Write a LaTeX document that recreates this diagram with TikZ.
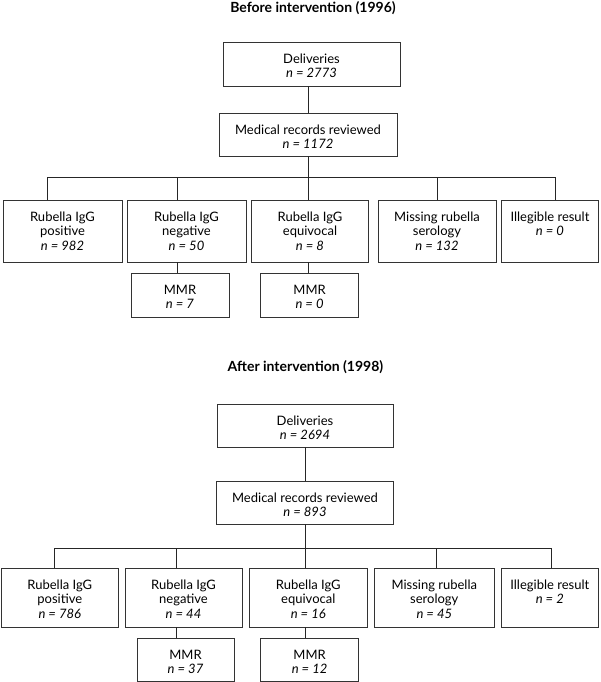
\documentclass[tikz,border=0pt]{standalone}
\usepackage{fontspec}
\setmainfont{Lato}
\begin{document}
\begin{tikzpicture}[x=1pt,y=-1pt,
  box/.style={draw=black!80, line width=0.8pt, inner sep=0pt, fill=none},
  txt/.style={anchor=north, inner sep=0pt, align=center, yshift=-12pt,
    font=\fontsize{13}{14.5}\selectfont},
  ttl/.style={inner sep=0pt, font=\bfseries\fontsize{14}{16}\selectfont},
  cn/.style={draw=black!85, line width=0.8pt}]
\useasboundingbox (0,0) rectangle (600,682);
% ---------------- top panel ----------------
\node[ttl] (t1) at (313,8) {Before intervention (1996)};
\node[box, minimum width=177pt, minimum height=44pt] (d1) at (311.5,64) {};
\node[txt] (d1t) at (d1.north) {Deliveries\\\textit{n = 2773}};
\node[box, minimum width=178pt, minimum height=43pt] (r1) at (308,134.5) {};
\node[txt] (r1t) at (r1.north) {Medical records reviewed\\\textit{n = 1172}};
\node[box, minimum width=119pt, minimum height=62pt] (a1) at (62.5,231) {};
\node[box, minimum width=119pt, minimum height=62pt] (a2) at (186.5,231) {};
\node[box, minimum width=116.5pt, minimum height=62pt] (a3) at (310,231) {};
\node[box, minimum width=118pt, minimum height=62pt] (a4) at (437,231) {};
\node[box, minimum width=97pt, minimum height=62pt] (a5) at (550,231) {};
\node[txt] (a1t) at (a1.north) {Rubella IgG\\positive\\\textit{n = 982}};
\node[txt] (a2t) at (a2.north) {Rubella IgG\\negative\\\textit{n = 50}};
\node[txt] (a3t) at (a3.north) {Rubella IgG\\equivocal\\\textit{n = 8}};
\node[txt] (a4t) at (a4.north) {Missing rubella\\serology\\\textit{n = 132}};
\node[txt] (a5t) at (a5.north) {Illegible result\\\textit{n = 0}};
\node[box, minimum width=98pt, minimum height=44pt] (m1) at (180,295) {};
\node[box, minimum width=98pt, minimum height=44pt] (m2) at (309.6,295) {};
\node[txt] (m1t) at (m1.north) {MMR\\\textit{n = 7}};
\node[txt] (m2t) at (m2.north) {MMR\\\textit{n = 0}};
\coordinate (j1) at (47.5,177);
\coordinate (j2) at (177.6,177);
\coordinate (j3) at (308,177);
\coordinate (j4) at (437,177);
\coordinate (j5) at (555,177);
\draw[cn] (r1.north) -- (r1.north |- d1.south);
\draw[cn] (r1.south) -- (j3);
\draw[cn] (j1) -- (j5);
\draw[cn] (j1) -- (j1 |- a1.north);
\draw[cn] (j2) -- (j2 |- a2.north);
\draw[cn] (j3) -- (j3 |- a3.north);
\draw[cn] (j4) -- (j4 |- a4.north);
\draw[cn] (j5) -- (j5 |- a5.north);
\draw[cn] (a2.south -| j2) -- (m1.north -| j2);
\draw[cn] (a3.south -| j3) -- (m2.north -| j3);
% ---------------- bottom panel ----------------
\node[ttl] (t2) at (305.5,367) {After intervention (1998)};
\node[box, minimum width=176pt, minimum height=43pt] (d2) at (305,425.5) {};
\node[txt] (d2t) at (d2.north) {Deliveries\\\textit{n = 2694}};
\node[box, minimum width=177pt, minimum height=43pt] (r2) at (305,502.5) {};
\node[txt] (r2t) at (r2.north) {Medical records reviewed\\\textit{n = 893}};
\node[box, minimum width=117.5pt, minimum height=59pt] (c1) at (59.8,597.5) {};
\node[box, minimum width=117pt, minimum height=59pt] (c2) at (183.5,597.5) {};
\node[box, minimum width=117.5pt, minimum height=59pt] (c3) at (308.3,597.5) {};
\node[box, minimum width=120.5pt, minimum height=59pt] (c4) at (434.3,597.5) {};
\node[box, minimum width=97.5pt, minimum height=59pt] (c5) at (549.8,597.5) {};
\node[txt] (c1t) at (c1.north) {Rubella IgG\\positive\\\textit{n = 786}};
\node[txt] (c2t) at (c2.north) {Rubella IgG\\negative\\\textit{n = 44}};
\node[txt] (c3t) at (c3.north) {Rubella IgG\\equivocal\\\textit{n = 16}};
\node[txt] (c4t) at (c4.north) {Missing rubella\\serology\\\textit{n = 45}};
\node[txt] (c5t) at (c5.north) {Illegible result\\\textit{n = 2}};
\node[box, minimum width=97pt, minimum height=43pt] (n1) at (185.5,659.5) {};
\node[box, minimum width=98pt, minimum height=43pt] (n2) at (309.6,659.5) {};
\node[txt] (n1t) at (n1.north) {MMR\\\textit{n = 37}};
\node[txt] (n2t) at (n2.north) {MMR\\\textit{n = 12}};
\coordinate (k1) at (54.7,548);
\coordinate (k2) at (176.8,548);
\coordinate (k3) at (305,548);
\coordinate (k4) at (436,548);
\coordinate (k5) at (551.5,548);
\draw[cn] (r2.north) -- (r2.north |- d2.south);
\draw[cn] (r2.south) -- (k3);
\draw[cn] (k1) -- (k5);
\draw[cn] (k1) -- (k1 |- c1.north);
\draw[cn] (k2) -- (k2 |- c2.north);
\draw[cn] (k3) -- (k3 |- c3.north);
\draw[cn] (k4) -- (k4 |- c4.north);
\draw[cn] (k5) -- (k5 |- c5.north);
\draw[cn] (c2.south -| k2) -- (n1.north -| k2);
\draw[cn] (c3.south -| k3) -- (n2.north -| k3);
\end{tikzpicture}
\end{document}
